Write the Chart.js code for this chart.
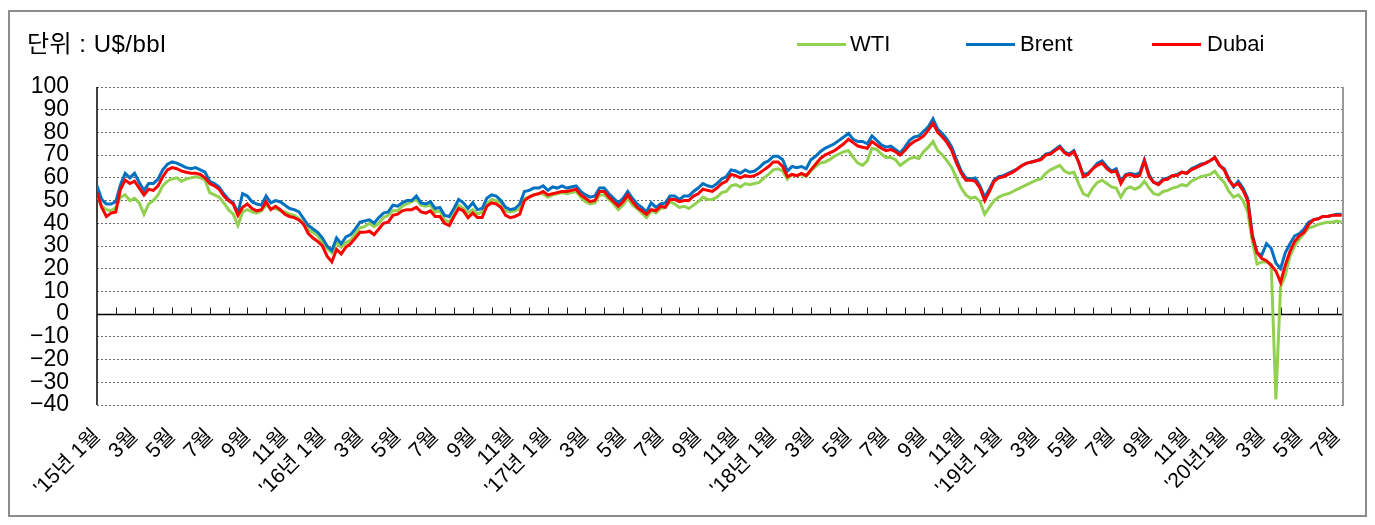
<!DOCTYPE html>
<html>
<head>
<meta charset="utf-8">
<script src="https://cdn.jsdelivr.net/npm/chart.js@4.4.1/dist/chart.umd.min.js"></script>
<style>
html,body{margin:0;padding:0;background:#fff;}
#wrap{position:relative;width:1375px;height:525px;overflow:hidden;background:#fff;}
#frame{position:absolute;left:8px;top:10px;width:1355px;height:503px;border:2px solid #8c8c8c;}
#c{position:absolute;left:0;top:0;}
.t{position:absolute;font-family:'Liberation Sans','Noto Sans CJK KR',sans-serif;color:#000;line-height:1;white-space:nowrap;}
.ln{position:absolute;height:3px;}
</style>
</head>
<body>
<div id="wrap">
  <div id="frame"></div>
  <canvas id="c" width="1375" height="525"></canvas>
  <div class="t" style="left:27px;top:32px;font-size:24px;letter-spacing:0.5px;">단위 : U$/bbl</div>
  <div class="ln" style="left:797px;top:43px;width:49px;background:#92D050;"></div>
  <div class="t" style="left:850px;top:33px;font-size:22px;">WTI</div>
  <div class="ln" style="left:966px;top:43px;width:49px;background:#0070C0;"></div>
  <div class="t" style="left:1020px;top:33px;font-size:22px;">Brent</div>
  <div class="ln" style="left:1152px;top:43px;width:49px;background:#FF0000;"></div>
  <div class="t" style="left:1207px;top:33px;font-size:22px;">Dubai</div>
</div>
<script>
// x-axis tick labels (one per monthly tick mark, labels on odd months)
const tickLabels = [
 "'15년 1월","","3월","","5월","","7월","","9월","","11월","",
 "'16년 1월","","3월","","5월","","7월","","9월","","11월","",
 "'17년 1월","","3월","","5월","","7월","","9월","","11월","",
 "'18년 1월","","3월","","5월","","7월","","9월","","11월","",
 "'19년 1월","","3월","","5월","","7월","","9월","","11월","",
 "'20년1월","","3월","","5월","","7월"
];
const yTicks = [100,90,80,70,60,50,40,30,20,10,0,-10,-20,-30,-40];
const X_MAX = 66.27;   // end of data in tick units
const STEP = 0.25;     // sample spacing in tick units (~ weekly)

const wti = [
 52.5,47.5,46,45.5,47,51.5,52.5,50,51,49,44,48.5,
 50,52.5,56.5,58.5,59.5,60,58.5,59.5,60,60.5,60,59,
 53.5,52.5,51.5,49,46,44,39,45,46,45,44.5,45.5,
 48,46.5,46.5,45.5,45,44,43.5,42,40.5,37,36,34.5,
 31.5,29,27,31.5,29.5,31.5,32.5,35.5,38,38.5,40,38.5,
 40,42.5,43.5,45.5,45.5,47.5,48.5,49.5,50.5,48,47.5,48,
 45,45.5,41.5,40.5,44,48,46.5,44.5,46,44,45,48.5,
 50.5,50,49,45.5,45,45.5,46.5,51,51.5,52.5,53,53,
 51.5,52.5,53,53.5,53,53.5,54,51.5,49.5,48.5,49,52.5,
 52.5,50.5,48.5,46,48,51,48,46.5,44.5,42.5,45.5,44.5,
 46.5,47,49.5,48.5,47,47.5,46.5,48,49.5,51.5,50.5,50.5,
 51.5,53.5,54,56.5,57,56,57.5,57,57.5,58,60,61.5,
 63.5,64,63,59.5,61.5,61,61.5,60.5,63,65,66.5,67,
 68,69.5,70.5,71.5,72,69,66.5,65.5,67.5,73,72.5,70.5,
 69,69,68,65.5,67,68.5,69,68.5,71.5,73.5,76,72,
 70,67.5,64.5,60,55.5,52.5,51,51.5,49.5,44,47,50,
 51.5,52.5,53,54,55,56,57,58,59,59.5,62,63.5,
 64.5,65.5,63,62,62.5,57.5,53,52,55.5,58,59,57.5,
 56,55.5,51.5,55,56,55,56,58.5,55.5,53,52.5,54,
 54.5,55.5,56,57,56.5,58.5,59.5,60.5,61,61.5,63,60,
 58,54,51.5,52.5,50,45,32,22,23,23,22,-37.6,
 12,17,25.5,30,33,35.5,38,38.5,39.5,40,40.5,40.5,
 41,40.5
];
const brent = [
 56.5,50.5,48.5,48.5,49.5,57,62,60,62,58,54.5,57.5,
 57.5,59.5,63.5,66,67,66.5,65.5,64.5,64,64.5,63.5,62.5,
 58.5,57.5,56,53,50.5,49,44.5,53,52,49.5,48.5,48,
 52,49,50,49.5,48,46.5,46,45,42,39,37.5,36,
 33.5,30,28,33.5,31,34,35,37.5,40.5,41,41.5,40,
 42.5,44.5,45,48,47.5,49,50,50,52,49,48.5,49.5,
 46.5,47,43.5,43,46.5,50.5,49,46.5,49,46,46.5,51,
 52.5,52,50,47,46,46.5,48.5,54,54.5,55.5,55.5,56.5,
 54.5,56,55.5,56.5,55.5,56,56.5,54,52.5,51.5,52,55.5,
 55.5,53,51,49,51,54,51,48.5,47,45,49,47,
 48.5,49,52,52,50.5,52,52,54,55.5,57.5,56.5,56,
 57.5,59.5,60.5,63.5,63,62,63.5,62.5,63,64.5,66.5,67.5,
 69.5,69.5,68,63,65,64.5,65,64,68,69.5,71.5,73,
 74,75,76.5,78,79.5,77,76,76,75,78.5,76.5,74.5,
 73.5,74,72.5,71,73.5,76.5,78,78.5,80.5,82.5,86,81.5,
 79.5,77,73.5,68,63,60,59.5,60,56.5,51.5,55,59,
 60.5,61,62,63,64,65.5,66.5,67,67.5,68.5,70.5,71,
 72.5,74,71.5,70.5,72,67,61.5,62,64,66.5,67.5,65,
 63,64,58.5,61.5,62,61.5,62,68,61.5,58,57.5,59.5,
 60,61,61.5,62.5,62,64,65,66,66.5,67.5,69,65.5,
 64,59.5,56,58.5,55.5,51,35,27,26,31,29,22.5,
 20,27,31,34.5,35.5,37.5,40.5,41.5,42,43,43,43.5,
 44,44
];
const dubai = [
 53.5,47,43,44.5,45,55,59,57.5,58.5,55.5,52.5,55,
 54.5,56.5,60.5,63.5,64.5,64,63,62.5,62,62,61.5,60,
 57.5,56.5,55,52,50,48.5,43.5,47,48.5,46.5,45.5,46,
 49.5,46,47.5,46,44,43,42.5,41.5,39.5,35.5,33.5,32,
 30,25.5,23,28.5,26.5,29.5,31,33.5,36,36,36.5,35,
 37.5,40,40.5,43.5,44,45.5,46,46,47,45,44.5,45.5,
 43,43,40,39,43,46.5,45.5,42.5,44.5,42.5,42.5,47.5,
 49,48.5,47,43.5,42.5,43,44,50,51.5,52.5,53,54,
 52.5,53,53.5,54,54,54.5,55,52.5,51,49.5,50,54,
 54,51.5,49.5,47.5,49.5,52.5,49.5,47,45.5,44,46,45.5,
 47.5,47,50.5,50.5,49.5,50,50,52,53,55,54.5,54,
 55.5,57.5,58.5,61.5,61,60,61,60.5,61,62,63.5,65,
 67,67,65,60.5,61.5,61,62,61,63.5,66,68.5,70,
 71,72,73.5,75,77,75.5,74,73.5,73,76,74.5,73,
 72,72.5,71.5,70,72,74.5,76,77,78.5,81,84,80,
 78,75.5,72,66.5,62,59,59,58.5,55.5,50,54,58.5,
 60,60.5,61.5,62.5,64,65.5,66.5,67,67.5,68,70,70.5,
 72,73.5,71,70,71.5,67,60.5,61.5,64,65.5,66.5,64,
 62.5,63,57.5,61,61.5,60.5,61,67.5,60.5,58,57,59,
 59.5,61,61,62.5,62,63.5,64.5,65.5,66.5,67.5,69,65.5,
 63.5,59,56.5,57.5,54.5,50,34,27,24.5,23.5,21.5,19,
 14,21.5,27.5,32,34.5,36,39.5,41.5,42,43,43,43.5,
 43.5,43.5
];

const FONT = "'Liberation Sans','Noto Sans CJK KR',sans-serif";
const toPts = arr => arr.map((y, i) => ({x: i * STEP, y}));

const axisPlugin = {
  id: 'axisLines',
  beforeDatasetsDraw(chart) {
    const {ctx, chartArea: a, scales: {x, y}} = chart;
    const y0 = Math.round(y.getPixelForValue(0)) + 0.5;
    ctx.save();
    // monthly tick marks standing on the zero line
    ctx.strokeStyle = '#222';
    ctx.lineWidth = 1;
    ctx.beginPath();
    for (let i = 1; i < tickLabels.length; i++) {
      const px = Math.round(x.getPixelForValue(i)) + 0.5;
      ctx.moveTo(px, y0);
      ctx.lineTo(px, y0 - 7);
    }
    ctx.stroke();
    // zero axis line
    ctx.strokeStyle = '#000';
    ctx.lineWidth = 1.5;
    ctx.beginPath();
    ctx.moveTo(a.left, y0);
    ctx.lineTo(a.right, y0);
    ctx.stroke();
    // value axis line
    ctx.beginPath();
    ctx.moveTo(a.left, a.top);
    ctx.lineTo(a.left, a.bottom);
    ctx.stroke();
    // right border of plot area
    ctx.strokeStyle = '#9a9a9a';
    ctx.lineWidth = 2;
    ctx.beginPath();
    ctx.moveTo(a.right + 1, a.top);
    ctx.lineTo(a.right + 1, a.bottom + 1);
    ctx.stroke();
    ctx.restore();
  }
};

new Chart(document.getElementById('c'), {
  type: 'line',
  data: {
    datasets: [
      {label: 'WTI', data: toPts(wti), borderColor: '#92D050', borderWidth: 3, pointRadius: 0, tension: 0, order: 3},
      {label: 'Brent', data: toPts(brent), borderColor: '#0070C0', borderWidth: 3, pointRadius: 0, tension: 0, order: 2},
      {label: 'Dubai', data: toPts(dubai), borderColor: '#FF0000', borderWidth: 3, pointRadius: 0, tension: 0, order: 1}
    ]
  },
  options: {
    responsive: false,
    animation: false,
    layout: {padding: {left: 0, right: 33, top: 87, bottom: 0}},
    plugins: {legend: {display: false}, tooltip: {enabled: false}, title: {display: false}},
    scales: {
      x: {
        type: 'linear', min: 0, max: X_MAX,
        afterBuildTicks: s => { s.ticks = tickLabels.map((_, i) => ({value: i})); },
        afterFit: s => { s.height = 120; },
        grid: {display: false},
        border: {display: false},
        ticks: {
          autoSkip: false, minRotation: 45, maxRotation: 45, padding: 11,
          color: '#000', font: {size: 21, family: FONT},
          callback: v => (tickLabels[v] !== undefined ? tickLabels[v] : '')
        }
      },
      y: {
        min: -40, max: 100,
        afterFit: s => { s.width = 97; },
        afterBuildTicks: s => { s.ticks = yTicks.map(v => ({value: v})); },
        grid: {color: '#6a6a6a', lineWidth: 1, drawTicks: false},
        border: {display: false, dash: [2, 2]},
        ticks: {
          autoSkip: false, padding: 28, color: '#000', font: {size: 23, family: FONT},
          callback: v => (v < 0 ? '\u2212' + Math.abs(v) : String(v))
        }
      }
    }
  },
  plugins: [axisPlugin]
});
</script>
</body>
</html>
